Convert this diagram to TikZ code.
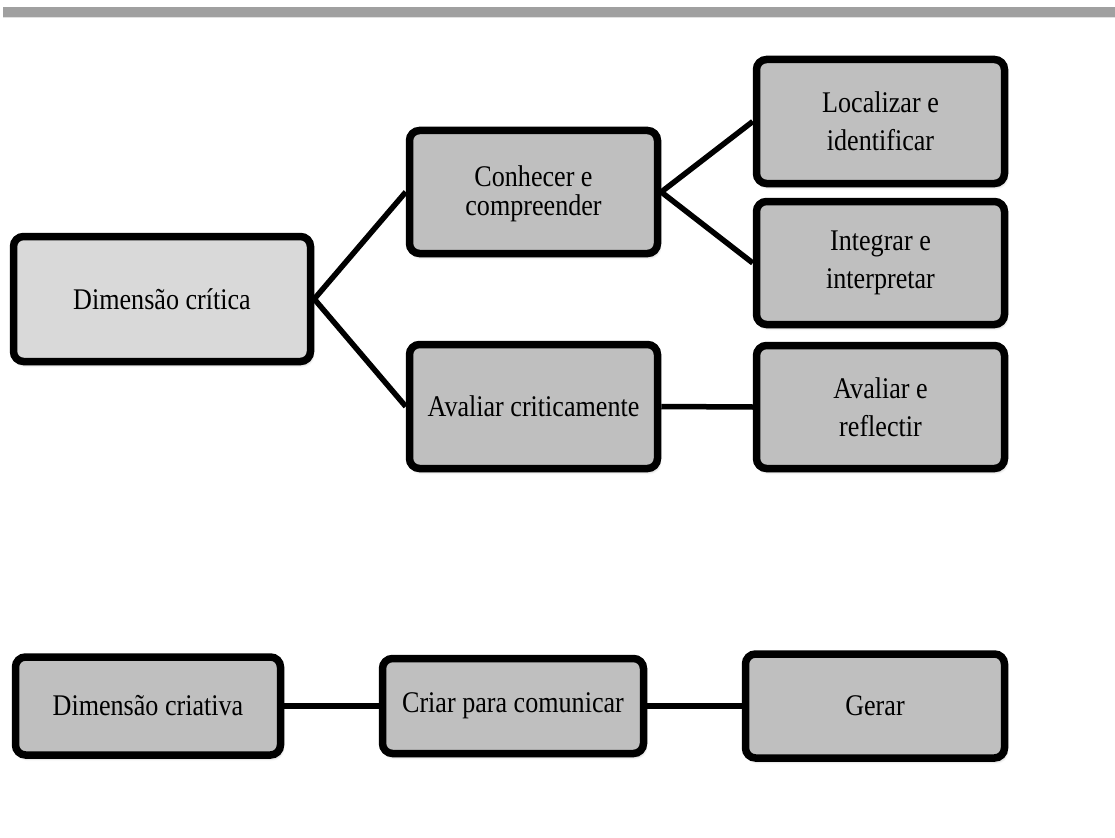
\documentclass[tikz,border=0pt]{standalone}
\usepackage{fontspec}
\setmainfont{Liberation Serif}[FakeStretch=0.87]
\usetikzlibrary{shadows.blur}
\definecolor{bargray}{HTML}{A0A0A0}
\definecolor{boxgray}{HTML}{BFBFBF}
\definecolor{rootgray}{HTML}{D9D9D9}
\tikzset{
  box/.style={draw=black, line width=7.5pt, rounded corners=10pt, fill=boxgray,
    align=center, inner sep=0pt,
    font=\fontsize{30}{38}\selectfont,
    blur shadow={shadow xshift=1.5pt, shadow yshift=-3pt,
      shadow blur radius=3pt, shadow blur steps=6, shadow opacity=35}},
  tightlines/.style={font=\fontsize{30}{28.5}\selectfont},
  link/.style={line width=5.5pt, black}
}
\begin{document}
\begin{tikzpicture}[x=1pt, y=-1pt]
\useasboundingbox (0,0) rectangle (1115,837);
% header rule
\fill[bargray] (3,7) rectangle (1115,17);
\fill[black!12] (3,17) rectangle (1115,18.5);

% critical dimension branch
\node[box, fill=rootgray, minimum width=297pt, minimum height=125pt] (crit) at (162,299) {Dimensão crítica};
\node[box, minimum width=248pt, minimum height=123pt] (conh) at (533.5,192) {};
\node[tightlines, align=center, inner sep=0pt] (conhtext) at (533.5,194) {Conhecer e\\compreender};
\node[box, minimum width=248pt, minimum height=124pt] (avc) at (533.5,406.5) {Avaliar criticamente};
\node[box, minimum width=248pt, minimum height=124pt] (loc) at (880.5,121.5) {Localizar e\\identificar};
\node[box, minimum width=248pt, minimum height=123pt] (integ) at (880.5,263) {Integrar e\\interpretar};
\node[box, minimum width=248pt, minimum height=123pt] (avr) at (880.5,407) {Avaliar e\\reflectir};

% creative dimension branch
\node[box, minimum width=265pt, minimum height=98pt] (dcr) at (148,706) {Dimensão criativa};
\node[box, minimum width=261pt, minimum height=95pt] (cpc) at (513,706) {Criar para comunicar};
\node[box, minimum width=259pt, minimum height=104pt] (gerar) at (875,706) {Gerar};

% connectors
\draw[link] (crit.east) -- (conh.west);
\draw[link] (crit.east) -- (avc.west);
\draw[link] (conh.east) -- (loc.west);
\draw[link] (conh.east) -- (integ.west);
\draw[link] (avc.east) -- (avr.west);
\draw[link] (dcr.east) -- (cpc.west);
\draw[link] (cpc.east) -- (gerar.west);
\end{tikzpicture}
\end{document}
